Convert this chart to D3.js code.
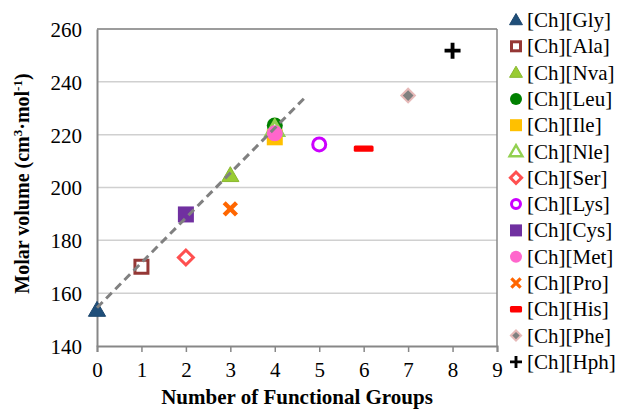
<!DOCTYPE html>
<html>
<head>
<meta charset="utf-8">
<script src="https://d3js.org/d3.v7.min.js"></script>
<style>
  body { margin: 0; background: #fff; }
  text { font-family: "Liberation Serif", "Times New Roman", serif; fill: #000; }
</style>
</head>
<body>
<div id="chart"></div>
<script>
// data
const names = ["[Ch][Gly]", "[Ch][Ala]", "[Ch][Nva]", "[Ch][Leu]", "[Ch][Ile]", "[Ch][Nle]", "[Ch][Ser]",
               "[Ch][Lys]", "[Ch][Cys]", "[Ch][Met]", "[Ch][Pro]", "[Ch][His]", "[Ch][Phe]", "[Ch][Hph]"];
const groups = [0, 1, 3, 4, 4, 4, 2, 5, 2, 4, 3, 6, 7, 8];
const volumes = [153.5, 170, 204.5, 223.5, 219, 222, 173.5, 216.3, 189.8, 220.5, 191.9, 214.7, 234.8, 251.8];
const shapes = ["triangle", "squareOpen", "triangle", "circle", "square", "triangleOpen", "diamondOpen",
                "circleOpen", "square", "circle", "cross", "dash", "diamond", "plus"];
const colors = ["#1F4E79", "#953735", "#99CC33", "#008000", "#FFC000", "#92D050", "#FF5050",
                "#CC00FF", "#7030A0", "#FF66CC", "#FF6600", "#FF0000", "#808080", "#000000"];
const trendX = [0, 4.7];
const trendY = [154.5, 234.4];
const xTicks = d3.range(0, 10);
const yTicks = [140, 160, 180, 200, 220, 240, 260];

const W = 618, H = 410;
const margin = {top: 29, left: 97, right: 121, bottom: 64};
const width = W - margin.left - margin.right;
const height = H - margin.top - margin.bottom;
const FONT = '"Liberation Serif", "Times New Roman", serif';

const svg = d3.select("#chart").append("svg")
    .attr("width", W).attr("height", H);

const x = d3.scaleLinear().domain([0, 9]).range([margin.left, margin.left + width]);
const y = d3.scaleLinear().domain([140, 260]).range([margin.top + height, margin.top]);

// gridlines
svg.append("g").selectAll("line")
    .data(yTicks.slice(1))
    .join("line")
    .attr("x1", x(0)).attr("x2", x(9))
    .attr("y1", d => y(d)).attr("y2", d => y(d))
    .attr("stroke", "#D0D0D0").attr("stroke-width", 1.5);

// plot border (top and right)
svg.append("line")
    .attr("x1", x(9)).attr("x2", x(9)).attr("y1", y(260)).attr("y2", y(140))
    .attr("stroke", "#878787").attr("stroke-width", 1.5);
svg.append("line")
    .attr("x1", x(0)).attr("x2", x(9)).attr("y1", y(260)).attr("y2", y(260))
    .attr("stroke", "#878787").attr("stroke-width", 1.5);

// axes
const xAxis = svg.append("g")
    .attr("transform", `translate(0,${y(140)})`)
    .call(d3.axisBottom(x).tickValues(xTicks).tickSize(6).tickPadding(10).tickFormat(d3.format("d")));
const yAxis = svg.append("g")
    .attr("transform", `translate(${x(0)},0)`)
    .call(d3.axisLeft(y).tickValues(yTicks).tickSize(0).tickPadding(15));
[xAxis, yAxis].forEach(a => {
    a.attr("font-family", FONT).attr("font-size", 21);
    a.select(".domain").attr("stroke", "#878787").attr("stroke-width", 2);
    a.selectAll(".tick line").attr("stroke", "#878787").attr("stroke-width", 1.5);
    a.selectAll("text").attr("fill", "#000");
});
yAxis.selectAll("text").attr("dy", "0.35em");

// axis titles
svg.append("text")
    .attr("x", x(4.5)).attr("y", 404)
    .attr("text-anchor", "middle")
    .style("font-size", "21px").style("font-weight", "bold")
    .text("Number of Functional Groups");

const yt = svg.append("text")
    .attr("transform", `translate(29,${margin.top + height / 2 - 4}) rotate(-90)`)
    .attr("text-anchor", "middle")
    .style("font-size", "20px").style("font-weight", "bold");
yt.append("tspan").text("Molar volume (cm");
yt.append("tspan").attr("dy", -7).style("font-size", "13px").text("3");
yt.append("tspan").attr("dy", 7).text("·mol");
yt.append("tspan").attr("dy", -7).style("font-size", "13px").text("-1");
yt.append("tspan").attr("dy", 7).text(")");

// marker drawing
function drawMarker(g, shape, color, s) {
    const tri = d3.symbol().type(d3.symbolTriangle).size(s * s * 0.5)();
    switch (shape) {
        case "triangle":
            g.append("path").attr("d", tri).attr("transform", "translate(0,1)")
                .attr("fill", color).attr("stroke", d3.color(color).darker(0.3)).attr("stroke-width", 1);
            break;
        case "triangleOpen":
            g.append("path").attr("d", tri).attr("transform", "translate(0,1)")
                .attr("fill", "#fff").attr("stroke", color).attr("stroke-width", s * 0.2);
            break;
        case "square":
            g.append("rect").attr("x", -s / 2).attr("y", -s / 2).attr("width", s).attr("height", s)
                .attr("fill", color);
            break;
        case "squareOpen":
            g.append("rect").attr("x", -s / 2 + 1.5).attr("y", -s / 2 + 1.5).attr("width", s - 3).attr("height", s - 3)
                .attr("fill", "#fff").attr("stroke", color).attr("stroke-width", 3);
            break;
        case "circle":
            g.append("circle").attr("r", s / 2).attr("fill", color);
            break;
        case "circleOpen":
            g.append("circle").attr("r", s / 2 - 1.5).attr("fill", "#fff").attr("stroke", color).attr("stroke-width", 3);
            break;
        case "diamondOpen":
            g.append("rect").attr("x", -s * 0.33).attr("y", -s * 0.33).attr("width", s * 0.66).attr("height", s * 0.66)
                .attr("transform", "rotate(45)")
                .attr("fill", "#fff").attr("stroke", color).attr("stroke-width", 3);
            break;
        case "diamond":
            g.append("rect").attr("x", -s * 0.3).attr("y", -s * 0.3).attr("width", s * 0.6).attr("height", s * 0.6)
                .attr("transform", "rotate(45)")
                .attr("fill", color).attr("stroke", "#E6B9B8").attr("stroke-width", 2);
            break;
        case "cross":
            g.append("path").attr("d", `M${-s / 2.6},${-s / 2.6}L${s / 2.6},${s / 2.6}M${-s / 2.6},${s / 2.6}L${s / 2.6},${-s / 2.6}`)
                .attr("stroke", color).attr("stroke-width", s * 0.27);
            break;
        case "dash":
            g.append("rect").attr("x", -s * 0.55).attr("y", -3.2).attr("width", s * 1.1).attr("height", 6.4)
                .attr("rx", 1.5).attr("fill", color);
            break;
        case "plus":
            g.append("path").attr("d", `M${-s / 2},0L${s / 2},0M0,${-s / 2}L0,${s / 2}`)
                .attr("stroke", color).attr("stroke-width", s * 0.24);
            break;
    }
}

// points
const pts = svg.append("g");
names.forEach((n, i) => {
    const g = pts.append("g").attr("transform", `translate(${x(groups[i])},${y(volumes[i])})`);
    drawMarker(g, shapes[i], colors[i], shapes[i] === "dash" ? 18 : 16);
});

// trendline
svg.append("line")
    .attr("x1", x(trendX[0])).attr("y1", y(trendY[0]))
    .attr("x2", x(trendX[1])).attr("y2", y(trendY[1]))
    .attr("stroke", "#808080").attr("stroke-width", 3)
    .attr("stroke-dasharray", "8,5");

// legend
const legend = svg.append("g").attr("transform", "translate(516,20)");
names.forEach((n, i) => {
    const row = legend.append("g").attr("transform", `translate(0,${i * 26.3})`);
    drawMarker(row, shapes[i], colors[i], shapes[i] === "dash" ? 11 : 12);
    row.append("text").attr("x", 11).attr("y", 7)
        .style("font-size", "21px").text(n);
});
</script>
</body>
</html>
